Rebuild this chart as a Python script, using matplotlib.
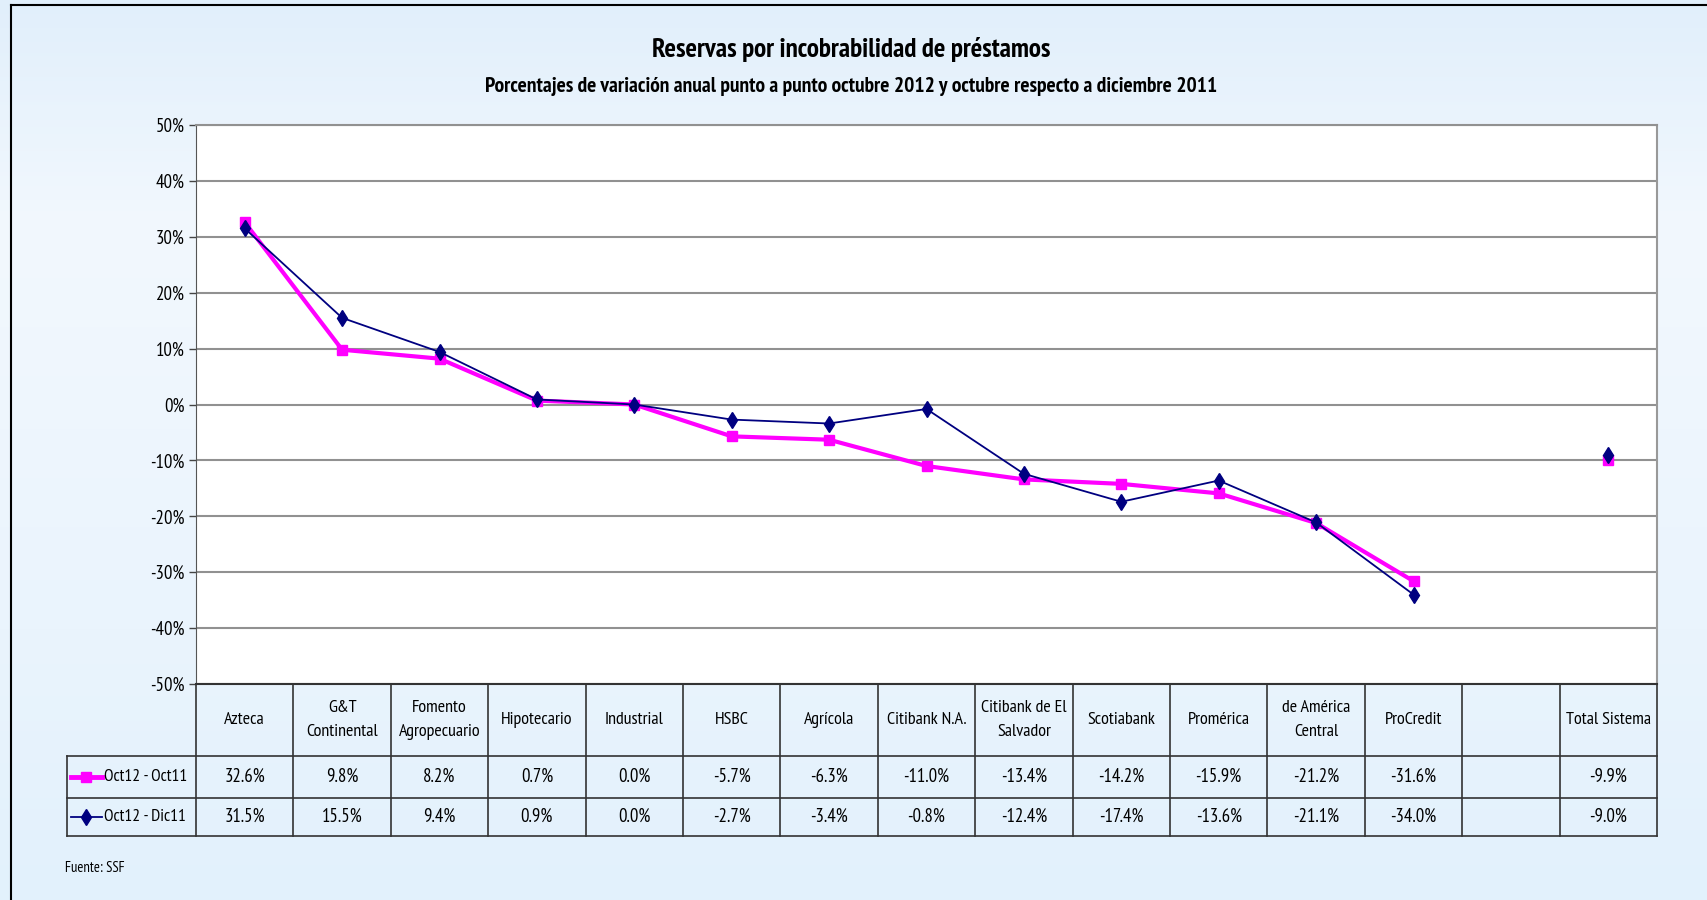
import numpy as np
import matplotlib
matplotlib.use('Agg')
import matplotlib.pyplot as plt
from matplotlib.colors import LinearSegmentedColormap

plt.rcParams['font.family'] = ['PT Sans Narrow', 'Archivo Narrow', 'Roboto Condensed', 'DejaVu Sans']

# datos
bancos = ['Azteca', 'G&T\nContinental', 'Fomento\nAgropecuario', 'Hipotecario', 'Industrial',
          'HSBC', 'Agrícola', 'Citibank N.A.', 'Citibank de El\nSalvador', 'Scotiabank',
          'Promérica', 'de América\nCentral', 'ProCredit', '', 'Total Sistema']
oct_oct = [32.6, 9.8, 8.2, 0.7, 0.0, -5.7, -6.3, -11.0, -13.4, -14.2, -15.9, -21.2, -31.6, np.nan, -9.9]
oct_dic = [31.5, 15.5, 9.4, 0.9, 0.0, -2.7, -3.4, -0.8, -12.4, -17.4, -13.6, -21.1, -34.0, np.nan, -9.0]
serie1 = 'Oct12 - Oct11'
serie2 = 'Oct12 - Dic11'
rosa = '#FF00FF'
azul = '#000080'

W, H = 1707, 900
fig = plt.figure(figsize=(W / 100, H / 100), dpi=100)

# fondo degradado
bg = fig.add_axes([0, 0, 1, 1], zorder=-10)
cmap = LinearSegmentedColormap.from_list('bg', [(0, '#E1EFFB'), (0.25, '#F2F8FE'), (0.7, '#EAF4FD'), (1, '#E2F1FC')])
bg.imshow(np.linspace(0, 1, 256).reshape(-1, 1), aspect='auto', cmap=cmap, extent=[0, 1, 0, 1])
bg.set_xlim(0, 1)
bg.set_ylim(0, 1)
bg.axis('off')
# marco
fig.add_artist(plt.Line2D([11 / W, 11 / W], [0, 1 - 5 / H], color='black', lw=1.5))
fig.add_artist(plt.Line2D([11 / W, 1], [1 - 5 / H, 1 - 5 / H], color='black', lw=1.5))

def fx(px):
    return px / W

def fy(py):
    return 1 - py / H

# eje principal
L, R, T, B = 196, 1657, 125, 684
ax = fig.add_axes([fx(L), fy(B), fx(R - L), (B - T) / H])
ax.set_facecolor('white')
x = np.arange(len(bancos))
ax.set_xlim(-0.5, len(bancos) - 0.5)
ax.set_ylim(-50, 50)
ax.set_yticks(np.arange(-50, 51, 10))
ax.set_yticklabels([f'{v}%' for v in range(-50, 51, 10)], fontsize=13.5)
ax.yaxis.grid(True, color='#919191', lw=1.5)
ax.set_axisbelow(True)
ax.set_xticks([])
ax.tick_params(axis='y', length=5, width=1, color='#444444', pad=3)
ax.spines['left'].set_color('#555555')
ax.spines['bottom'].set_color('#333333')
ax.spines['bottom'].set_linewidth(1.5)
ax.spines['right'].set_color('#999999')
ax.spines['right'].set_linewidth(1.5)
ax.spines['top'].set_color('#919191')
ax.spines['top'].set_linewidth(1.5)

ax.plot(x, oct_oct, color=rosa, lw=3, marker='s', ms=7.5, zorder=3)
ax.plot(x, oct_dic, color=azul, lw=1.3, marker='d', ms=8, zorder=4)

# titulo
fig.text(fx(851), fy(50), 'Reservas por incobrabilidad de préstamos', ha='center', va='center',
         fontsize=19.5, fontweight='bold')
fig.text(fx(851), fy(86), 'Porcentajes de variación anual punto a punto octubre 2012 y octubre respecto a diciembre 2011',
         ha='center', va='center', fontsize=15.5, fontweight='bold')

# tabla de datos
TL = 67
tb = fig.add_axes([fx(L), fy(836), fx(R - L), (836 - 684) / H])
tb.set_xlim(-0.5, len(bancos) - 0.5)
tb.set_ylim(152, 0)
tb.axis('off')
colw = (R - L) / len(bancos)
x0 = -0.5 - (L - TL) / colw
kw = dict(color='#333333', lw=1.2, clip_on=False)
for xi in np.arange(-0.5, len(bancos), 1):
    tb.plot([xi, xi], [0, 152], **kw)
tb.plot([x0, x0], [72, 152], **kw)
tb.plot([x0, len(bancos) - 0.5], [72, 72], **kw)
tb.plot([x0, len(bancos) - 0.5], [114, 114], **kw)
tb.plot([x0, len(bancos) - 0.5], [152, 152], **kw)
for i, b in enumerate(bancos):
    tb.text(i, 36, b, ha='center', va='center', fontsize=13, linespacing=1.65)
    if not np.isnan(oct_oct[i]):
        tb.text(i, 93, f'{oct_oct[i]:.1f}%', ha='center', va='center', fontsize=13.5)
        tb.text(i, 133, f'{oct_dic[i]:.1f}%', ha='center', va='center', fontsize=13.5)
# leyenda en la tabla
lx = [x0 + 0.04, x0 + 0.2, x0 + 0.36]
tb.plot(lx, [93] * 3, color=rosa, lw=3.5, marker='s', ms=7, markevery=[1], clip_on=False)
tb.plot(lx, [133] * 3, color=azul, lw=1.3, marker='d', ms=8, markevery=[1], clip_on=False)
tb.text(x0 + 0.385, 93, serie1, ha='left', va='center', fontsize=12.5)
tb.text(x0 + 0.385, 133, serie2, ha='left', va='center', fontsize=12.5)

fig.text(fx(65), fy(868), 'Fuente: SSF', ha='left', va='center', fontsize=10.5)

fig.savefig('out.png', dpi=100)
